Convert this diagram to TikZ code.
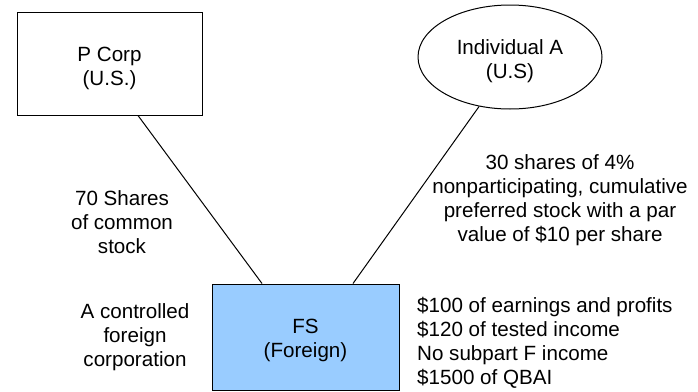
\documentclass[tikz,border=0pt]{standalone}
\usepackage{fontspec}
\setmainfont{Liberation Sans}
\usetikzlibrary{shapes.geometric}
\definecolor{fsblue}{HTML}{99CCFF}
\begin{document}
\begin{tikzpicture}[x=1pt,y=-1pt,
  txt/.style={font=\fontsize{20.6}{24}\selectfont, inner sep=0pt},
  ent/.style={draw, line width=1pt, inner sep=0pt},
  link/.style={line width=1pt}]
\useasboundingbox (0,0) rectangle (698,391);
\node[ent, rectangle, minimum width=185pt, minimum height=103pt] (pcorp) at (109.5,63.5) {};
\node[ent, ellipse, minimum width=184pt, minimum height=104pt] (ind) at (510,57) {};
\node[ent, rectangle, fill=fsblue, minimum width=187pt, minimum height=106pt] (fs) at (305.5,337) {};
\node[txt, anchor=base, align=center] (pcorptxt) at (109.5,85) {P Corp\\(U.S.)};
\node[txt, anchor=base, align=center] (indtxt) at (510,78) {Individual A\\(U.S)};
\node[txt, anchor=base, align=center] (fstxt) at (305.5,357) {FS\\(Foreign)};
\draw[link] ([xshift=28.5pt]pcorp.south) -- ([xshift=-43.5pt]fs.north);
\draw[link] (ind.238) -- ([xshift=47.5pt]fs.north);
\node[txt, anchor=base, align=center] (common) at (122,253) {70 Shares\\of common\\stock};
\node[txt, anchor=base, align=center] (cfc) at (135,366) {A controlled\\foreign\\corporation};
\node[txt, anchor=base, align=center] (pref) at (560,241) {30 shares of 4\%\\nonparticipating, cumulative\\preferred stock with a par\\value of \$10 per share};
\node[txt, anchor=base west, align=left] (facts) at (417,384) {\$100 of earnings and profits\\\$120 of tested income\\No subpart F income\\\$1500 of QBAI};
\end{tikzpicture}
\end{document}
